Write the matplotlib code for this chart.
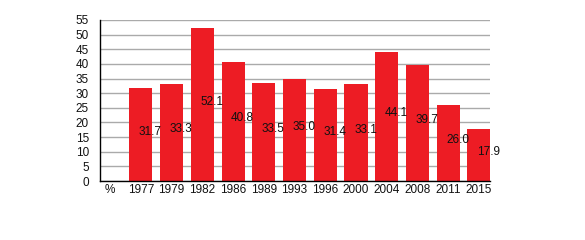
import matplotlib
matplotlib.use("Agg")
import matplotlib.pyplot as plt

categories = ["%", "1977", "1979", "1982", "1986", "1989", "1993", "1996", "2000", "2004", "2008", "2011", "2015"]
values = [None, 31.7, 33.3, 52.1, 40.8, 33.5, 35.0, 31.4, 33.1, 44.1, 39.7, 26.0, 17.9]
yticks = list(range(0, 56, 5))

plt.rcParams['font.family'] = ['Liberation Sans', 'DejaVu Sans']
fig = plt.figure(figsize=(5.85, 2.4), dpi=100)
ax = fig.add_axes([100/585, 1-181/240, 390/585, 161/240])

xs = list(range(len(categories)))
bx = [x for x, v in zip(xs, values) if v is not None]
bv = [v for v in values if v is not None]
ax.bar(bx, bv, width=0.75, color="#ED1C24", zorder=3)
for x, v in zip(bx, bv):
    ax.text(x + 0.31, v / 2, f"{v:.1f}", ha="center", va="baseline", fontsize=8.5, color="#111111", zorder=4)

ax.set_xlim(-0.33, 12.36)
ax.set_ylim(0, 55)
ax.set_yticks(yticks)
ax.set_xticks(xs)
ax.set_xticklabels(categories)
ax.tick_params(axis="both", length=0, labelsize=8.5, colors="#111111")
ax.tick_params(axis="y", pad=8)
ax.tick_params(axis="x", pad=2.5)
ax.yaxis.grid(True, color="#aaaaaa", linewidth=1, zorder=0)
ax.set_axisbelow(True)
for s in ["top", "right"]:
    ax.spines[s].set_visible(False)
for s in ["left", "bottom"]:
    ax.spines[s].set_color("black")
    ax.spines[s].set_linewidth(1)
    ax.spines[s].set_zorder(5)

fig.savefig("out.png", dpi=100)
